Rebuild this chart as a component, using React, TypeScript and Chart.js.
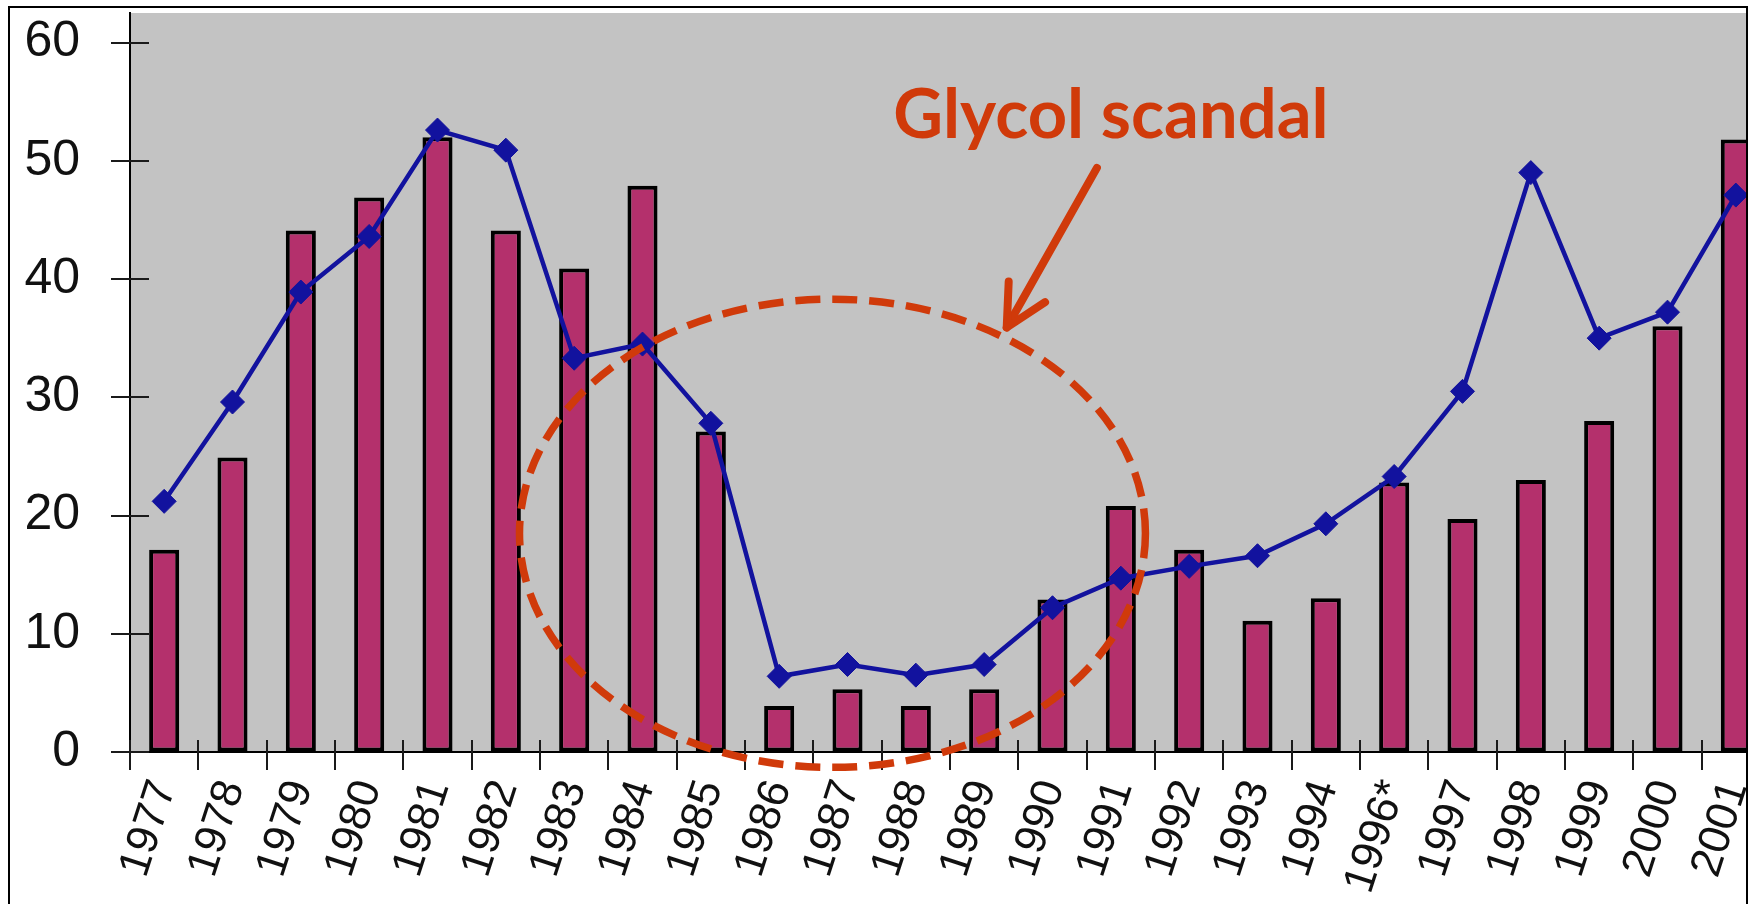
import React, { useEffect, useRef } from "react";
import { Chart, registerables } from "chart.js";

Chart.register(...registerables);

const categories = [
  "1977", "1978", "1979", "1980", "1981", "1982", "1983", "1984", "1985",
  "1986", "1987", "1988", "1989", "1990", "1991", "1992", "1993", "1994",
  "1996*", "1997", "1998", "1999", "2000", "2001",
];
const barValues = [
  17.1, 24.9, 44.1, 46.9, 52.0, 44.1, 40.9, 47.9, 27.1,
  3.9, 5.3, 3.9, 5.3, 12.9, 20.8, 17.1, 11.1, 13.0,
  22.8, 19.7, 23.0, 28.0, 36.0, 51.8,
];
const lineValues = [
  21.2, 29.6, 38.9, 43.6, 52.6, 50.9, 33.3, 34.5, 27.8,
  6.4, 7.4, 6.5, 7.4, 12.2, 14.7, 15.7, 16.6, 19.3,
  23.3, 30.5, 49.0, 35.0, 37.2, 47.1,
];
const yTickValues = [0, 10, 20, 30, 40, 50, 60];
const annotationText = "Glycol scandal";

const RED = "#D03A0A";
const BLUE = "#12129E";

const decorPlugin = {
  id: "decor",
  beforeDraw(chart: any) {
    const { ctx, chartArea } = chart;
    ctx.save();
    ctx.fillStyle = "#ffffff";
    ctx.fillRect(0, 0, chart.width, chart.height);
    ctx.fillStyle = "#C3C3C3";
    ctx.fillRect(chartArea.left, chartArea.top, chartArea.right - chartArea.left, chartArea.bottom - chartArea.top);
    ctx.restore();
  },
  beforeDatasetsDraw(chart: any) {
    const { ctx } = chart;
    const xs = chart.scales.x;
    const ys = chart.scales.y;
    ctx.save();
    ctx.strokeStyle = "#1a1a1a";
    ctx.lineWidth = 2;
    for (let i = 0; i <= categories.length; i++) {
      const x = Math.round(xs.getPixelForValue(i - 0.5));
      ctx.beginPath();
      ctx.moveTo(x, ys.bottom - 12);
      ctx.lineTo(x, ys.bottom + 18);
      ctx.stroke();
    }
    yTickValues.forEach((v) => {
      const y = Math.round(ys.getPixelForValue(v));
      ctx.beginPath();
      ctx.moveTo(xs.left - 19, y);
      ctx.lineTo(xs.left + 19, y);
      ctx.stroke();
    });
    ctx.restore();
  },
  afterDraw(chart: any) {
    const { ctx } = chart;
    const xs = chart.scales.x;
    const ys = chart.scales.y;
    const px = (v: number) => xs.getPixelForValue(v);
    const py = (v: number) => ys.getPixelForValue(v);
    const cw = px(1) - px(0);
    ctx.save();
    ctx.strokeStyle = RED;
    ctx.lineWidth = 7.5;
    ctx.setLineDash([25, 12]);
    ctx.beginPath();
    ctx.ellipse(px(9.78), py(18.5), 4.58 * cw, py(0) - py(19.8), 0, 0, Math.PI * 2);
    ctx.stroke();
    ctx.setLineDash([]);
    const x1 = px(13.65), y1 = py(49.4);
    const x2 = px(12.33), y2 = py(35.9);
    ctx.lineWidth = 8;
    ctx.lineCap = "round";
    ctx.lineJoin = "round";
    ctx.beginPath();
    ctx.moveTo(x1, y1);
    ctx.lineTo(x2, y2);
    ctx.stroke();
    const ang = Math.atan2(y1 - y2, x1 - x2);
    const headLen = 46;
    const spread = (27 * Math.PI) / 180;
    ctx.beginPath();
    ctx.moveTo(x2 + headLen * Math.cos(ang - spread), y2 + headLen * Math.sin(ang - spread));
    ctx.lineTo(x2, y2);
    ctx.lineTo(x2 + headLen * Math.cos(ang + spread), y2 + headLen * Math.sin(ang + spread));
    ctx.stroke();
    const targetWidth = 6.37 * cw;
    let size = 70;
    ctx.font = `bold ${size}px Lato, "Open Sans", sans-serif`;
    const w = ctx.measureText(annotationText).width;
    size = (size * targetWidth) / w;
    ctx.font = `bold ${size}px Lato, "Open Sans", sans-serif`;
    ctx.fillStyle = RED;
    ctx.textAlign = "left";
    ctx.textBaseline = "alphabetic";
    ctx.fillText(annotationText, px(10.67), py(51.9));
    ctx.restore();
  },
};

export default function App() {
  const ref = useRef<HTMLCanvasElement>(null);
  useEffect(() => {
    const canvas = ref.current;
    if (!canvas) return;
    const chart = new Chart(canvas, {
      type: "bar",
      data: {
        labels: categories,
        datasets: [
          {
            type: "line",
            data: lineValues,
            borderColor: BLUE,
            borderWidth: 4.5,
            pointStyle: "rectRot",
            pointRadius: 12,
            pointBackgroundColor: BLUE,
            pointBorderColor: BLUE,
            pointBorderWidth: 1,
            tension: 0,
            order: 0,
          } as any,
          {
            type: "bar",
            data: barValues,
            backgroundColor: "#B4306C",
            borderColor: "#000000",
            borderWidth: 4,
            borderSkipped: false,
            barPercentage: 0.44,
            categoryPercentage: 1,
            order: 1,
          } as any,
        ],
      },
      options: {
        responsive: false,
        animation: false,
        devicePixelRatio: 1,
        layout: { padding: { left: 0, right: 30, top: 8, bottom: 0 } },
        plugins: { legend: { display: false }, tooltip: { enabled: false } },
        scales: {
          x: {
            type: "category",
            offset: true,
            grid: { display: true, drawOnChartArea: false, drawTicks: false, offset: true },
            border: { display: true, color: "#000", width: 2 },
            ticks: {
              autoSkip: false,
              minRotation: 72,
              maxRotation: 72,
              padding: 22,
              color: "#111",
              font: { family: "'Liberation Sans', Arial, sans-serif", size: 44 },
            },
            afterFit: (s: any) => {
              s.height = 152;
              s.paddingLeft = 0;
              s.paddingRight = 0;
              s.paddingTop = 0;
              s.paddingBottom = 0;
            },
          },
          y: {
            type: "linear",
            min: 0,
            max: 62.5,
            grid: { display: true, drawOnChartArea: false, drawTicks: false },
            border: { display: true, color: "#000", width: 2 },
            afterBuildTicks: (s: any) => {
              s.ticks = yTickValues.map((v) => ({ value: v }));
            },
            ticks: {
              padding: 50,
              color: "#111",
              font: { family: "'Liberation Sans', Arial, sans-serif", size: 50 },
            },
            afterFit: (s: any) => {
              s.width = 130;
              s.paddingTop = 0;
              s.paddingBottom = 0;
              s.paddingLeft = 0;
              s.paddingRight = 0;
            },
          },
        },
      },
      plugins: [decorPlugin],
    } as any);
    return () => chart.destroy();
  }, []);

  return (
    <div
      style={{
        position: "fixed",
        left: 8,
        top: 6,
        width: 1740,
        height: 904,
        boxSizing: "border-box",
        borderTop: "2px solid #000",
        borderLeft: "2px solid #000",
        borderRight: "2px solid #000",
        overflow: "hidden",
        background: "#fff",
      }}
    >
      <canvas
        ref={ref}
        width={1800}
        height={904}
        style={{ position: "absolute", left: -10, top: -8, width: 1800, height: 904, display: "block" }}
      />
    </div>
  );
}
